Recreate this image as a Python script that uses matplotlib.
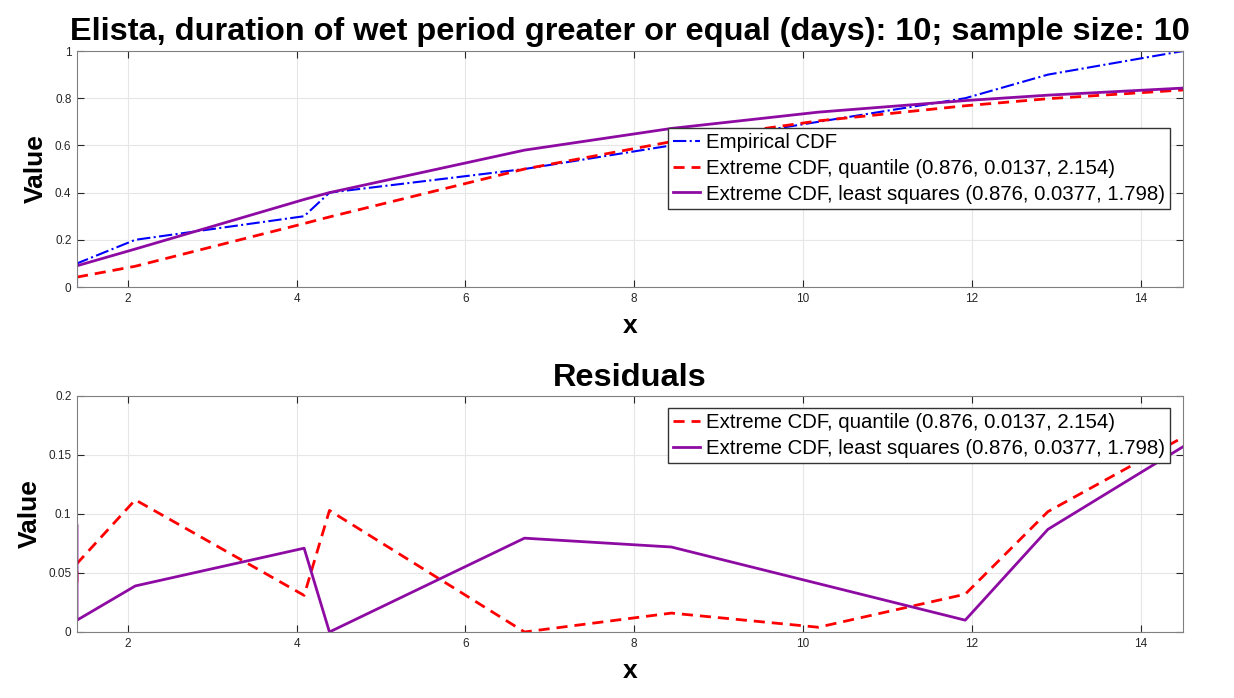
import numpy as np
import matplotlib
matplotlib.use('Agg')
import matplotlib.pyplot as plt

plt.rcParams['font.family'] = ['Liberation Sans', 'DejaVu Sans']

# data
x_emp = [1.4, 1.4, 2.09, 4.09, 4.39, 6.70, 8.44, 10.18, 11.92, 12.90, 14.5]
cdf_emp = [0.0, 0.1, 0.2, 0.3, 0.4, 0.5, 0.6, 0.7, 0.8, 0.9, 1.0]
cdf_quant = [0.042, 0.042, 0.088, 0.269, 0.297, 0.500, 0.616, 0.704, 0.768, 0.798, 0.835]
cdf_lsq = [0.090, 0.090, 0.161, 0.371, 0.400, 0.580, 0.672, 0.741, 0.790, 0.813, 0.843]
res_quant = [0.042, 0.058, 0.112, 0.031, 0.103, 0.000, 0.016, 0.004, 0.032, 0.102, 0.165]
res_lsq = [0.090, 0.010, 0.039, 0.071, 0.000, 0.0795, 0.072, 0.041, 0.010, 0.087, 0.157]

lbl_emp = 'Empirical CDF'
lbl_quant = 'Extreme CDF, quantile (0.876, 0.0137, 2.154)'
lbl_lsq = 'Extreme CDF, least squares (0.876, 0.0377, 1.798)'
title_top = 'Elista, duration of wet period greater or equal (days): 10; sample size: 10'

c_purple = '#8E0BA3'
tick_col = '#262626'

fig = plt.figure(figsize=(12.34, 6.98), dpi=100)
ax1 = fig.add_axes([0.0624, 0.5888, 0.8963, 0.3381])
ax2 = fig.add_axes([0.0624, 0.0946, 0.8963, 0.3381])


def style(ax):
    ax.grid(True, color='#e6e6e6', linewidth=0.8)
    ax.set_axisbelow(True)
    ax.tick_params(direction='in', top=True, right=True, labelsize=8.5,
                   colors=tick_col, length=5, width=0.8, pad=4)
    for s in ax.spines.values():
        s.set_color('#808080')
        s.set_linewidth(0.8)
    ax.set_xlim(1.4, 14.5)
    ax.set_xticks(np.arange(2, 15, 2))
    ax.set_xlabel('x', fontsize=19, fontweight='bold', labelpad=7)
    ax.set_ylabel('Value', fontsize=19, fontweight='bold', labelpad=5)


def legend(ax, anchor):
    ax.legend(loc='upper right', bbox_to_anchor=anchor, fontsize=14.7,
              fancybox=False, edgecolor='#333333', framealpha=1, handlelength=1.3,
              borderpad=0.25, labelspacing=0.33, handletextpad=0.3, borderaxespad=0)


ax1.plot(x_emp, cdf_emp, '-.', color='b', linewidth=1.5, label=lbl_emp)
ax1.plot(x_emp, cdf_quant, '--', color='r', linewidth=2, dashes=(4, 2.5), label=lbl_quant)
ax1.plot(x_emp, cdf_lsq, '-', color=c_purple, linewidth=2, label=lbl_lsq)
style(ax1)
ax1.set_ylim(0, 1)
ax1.set_yticks([0, 0.2, 0.4, 0.6, 0.8, 1])
ax1.set_yticklabels(['0', '0.2', '0.4', '0.6', '0.8', '1'])
ax1.set_title(title_top, fontsize=23.4, fontweight='bold', pad=8)
legend(ax1, (0.988, 0.674))

ax2.plot(x_emp, res_quant, '--', color='r', linewidth=2, dashes=(4, 2.5), label=lbl_quant)
ax2.plot(x_emp, res_lsq, '-', color=c_purple, linewidth=2, label=lbl_lsq)
style(ax2)
ax2.set_ylim(0, 0.2)
ax2.set_yticks([0, 0.05, 0.1, 0.15, 0.2])
ax2.set_yticklabels(['0', '0.05', '0.1', '0.15', '0.2'])
ax2.set_title('Residuals', fontsize=23.4, fontweight='bold', pad=7)
legend(ax2, (0.988, 0.949))

fig.savefig('out.png', dpi=100)
